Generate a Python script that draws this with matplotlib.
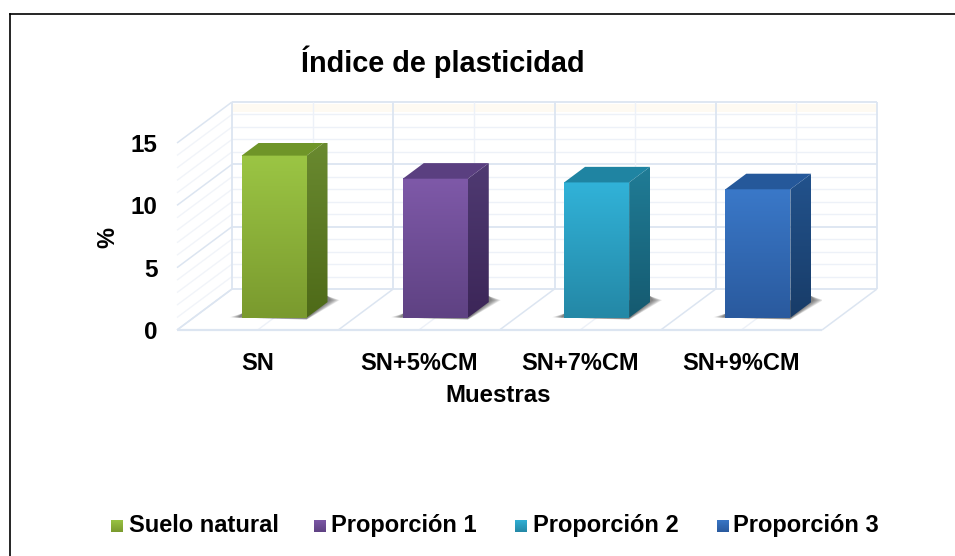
import numpy as np
import matplotlib
matplotlib.use("Agg")
import matplotlib.pyplot as plt
from matplotlib.colors import LinearSegmentedColormap
from matplotlib.lines import Line2D
from matplotlib.patches import Polygon

categorias = ["SN", "SN+5%CM", "SN+7%CM", "SN+9%CM"]
valores = [13.0, 11.15, 10.85, 10.3]
series = ["Suelo natural", "Proporción 1", "Proporción 2", "Proporción 3"]
# colores: arriba y abajo de la cara, lado arriba y abajo, tapa
cara_sup = ["#9BC544", "#7E59A8", "#31B2D8", "#3A78C8"]
cara_inf = ["#7A9A2E", "#5F4283", "#2488A6", "#2A5A9E"]
lado_sup = ["#6A8A30", "#4F3A72", "#207C96", "#22528C"]
lado_inf = ["#4E6A18", "#3C2658", "#155A70", "#183C68"]
tapa = ["#6F9528", "#5A3F80", "#1F84A2", "#25589A"]

W, H = 955, 556
plt.rcParams["font.family"] = ["Liberation Sans", "DejaVu Sans"]
plt.rcParams["font.weight"] = "bold"

fig = plt.figure(figsize=(W / 100, H / 100), dpi=100, facecolor="white")
# el plano frontal del grafico: x de 177 a 822 px, y de 330 a 143 px
ax = fig.add_axes([177 / W, 1 - 330 / H, 645 / W, 187 / H])
for s in ax.spines.values():
    s.set_visible(False)
ax.patch.set_alpha(0)

# profundidad oblicua en unidades de datos
px_x = 4 / 645
px_y = 15 / 187
dx = 55 * px_x
dy = 41 * px_y


def proy(x, y, d):
    return x + d * dx, y + d * dy


def raya(a, b, c, lw):
    ax.plot(*zip(a, b), color=c, lw=lw, clip_on=False, zorder=1, solid_capstyle="butt")


linea = "#DCE5F1"
fina = "#EDF1F8"
lado_fina = "#F1F4F9"

# franja crema arriba de la pared
ax.add_patch(Polygon([proy(-0.5, 14.2, 1), proy(3.5, 14.2, 1), proy(3.5, 14.8, 1), proy(-0.5, 14.8, 1)],
                     closed=True, facecolor="#FEFAF2", edgecolor="none", clip_on=False, zorder=0))
for v in range(0, 16):
    major = v % 5 == 0
    raya(proy(-0.5, v, 1), proy(3.5, v, 1), linea if major else fina, 1.3 if major else 1.0)
    raya(proy(-0.5, v, 0), proy(-0.5, v, 1), linea if major else lado_fina, 1.1 if major else 1.0)
for k in range(0, 5):
    x = k - 0.5
    raya(proy(x, 0, 1), proy(x, 15, 1), linea, 1.3)
    raya(proy(x, 0, 0), proy(x, 0, 1), linea, 1.1)
for k in range(4):
    raya(proy(k, 0, 1), proy(k, 15, 1), fina, 1.0)
    raya(proy(k, 0, 0), proy(k, 0, 1), fina, 1.0)
raya((-0.5, 0), (3.5, 0), linea, 1.6)

# barras
ancho = 65 * px_x / 2
d0, d1 = 0.3, 0.68
grad = np.linspace(0, 1, 64).reshape(-1, 1)
for i, v in enumerate(valores):
    xa, y0 = proy(i - ancho, 0, d0)
    xb, _ = proy(i + ancho, 0, d0)
    _, ytop = proy(i, v, d0)
    xa2, y02 = proy(i - ancho, 0, d1)
    xb2, _ = proy(i + ancho, 0, d1)
    _, ytop2 = proy(i, v, d1)

    # sombra difusa en el piso, varias capas
    for g in [1.0, 0.85, 0.7, 0.55, 0.4, 0.25, 0.1, 0.0]:
        sombra = Polygon([(xa - (3 + 9 * g) * px_x, y0 + 0.5 * g * px_y),
                          (xb, y0 - (1 + 1 * g) * px_y),
                          (xb2 + (3 + 9 * g) * px_x, y02 + 2 * px_y),
                          (xb2, y02 + 6 * px_y),
                          (xa, y0 + 4 * px_y)],
                         closed=True, facecolor="#3A3A3A", edgecolor="none", alpha=0.11, zorder=2)
        ax.add_patch(sombra)

    cm = LinearSegmentedColormap.from_list("c", [cara_sup[i], cara_inf[i]])
    ax.imshow(grad, cmap=cm, extent=(xa, xb, y0, ytop), aspect="auto", zorder=4, origin="upper")

    cm2 = LinearSegmentedColormap.from_list("l", [lado_sup[i], lado_inf[i]])
    im = ax.imshow(grad, cmap=cm2, extent=(xb, xb2, y0, ytop2), aspect="auto", zorder=3, origin="upper")
    clip = Polygon([(xb, y0), (xb2, y02), (xb2, ytop2), (xb, ytop)], closed=True,
                   transform=ax.transData, facecolor="none", edgecolor="none")
    ax.add_patch(clip)
    im.set_clip_path(clip)

    ax.add_patch(Polygon([(xa, ytop), (xb, ytop), (xb2, ytop2), (xa2, ytop2)], closed=True,
                         facecolor=tapa[i], edgecolor="none", zorder=4))

ax.set_xlim(-0.5, 3.5)
ax.set_ylim(0, 15)

ax.set_xticks(range(4))
ax.set_xticklabels(categorias)
ax.set_yticks([0, 5, 10, 15])
ax.tick_params(axis="x", length=0, pad=15.5, labelsize=17)
ax.tick_params(axis="y", length=0, pad=14, labelsize=17.5)

fig.text(443 / W, 1 - 62 / H, "Índice de plasticidad", ha="center", va="center", fontsize=20.8)
fig.text(498 / W, 1 - 395 / H, "Muestras", ha="center", va="center", fontsize=17.3)
fig.text(108 / W, 1 - 238 / H, "%", ha="center", va="center", rotation=90, fontsize=17)

# leyenda
pos_cuadro = [111, 314, 515, 717]
pos_texto = [129, 331, 533, 733]
for i, s in enumerate(series):
    cuadro = fig.add_axes([pos_cuadro[i] / W, 1 - 532 / H, 12 / W, 12 / H])
    cm = LinearSegmentedColormap.from_list("c", [cara_sup[i], cara_inf[i]])
    cuadro.imshow(grad, cmap=cm, aspect="auto")
    cuadro.axis("off")
    fig.text(pos_texto[i] / W, 1 - 532 / H, s, ha="left", va="baseline", fontsize=17)

# marco: solo arriba e izquierda
fig.add_artist(Line2D([10 / W, 1], [1 - 14 / H, 1 - 14 / H], color="black", lw=1.2))
fig.add_artist(Line2D([10 / W, 10 / W], [0, 1 - 14 / H], color="black", lw=1.2))

fig.savefig("out.png", dpi=100)
